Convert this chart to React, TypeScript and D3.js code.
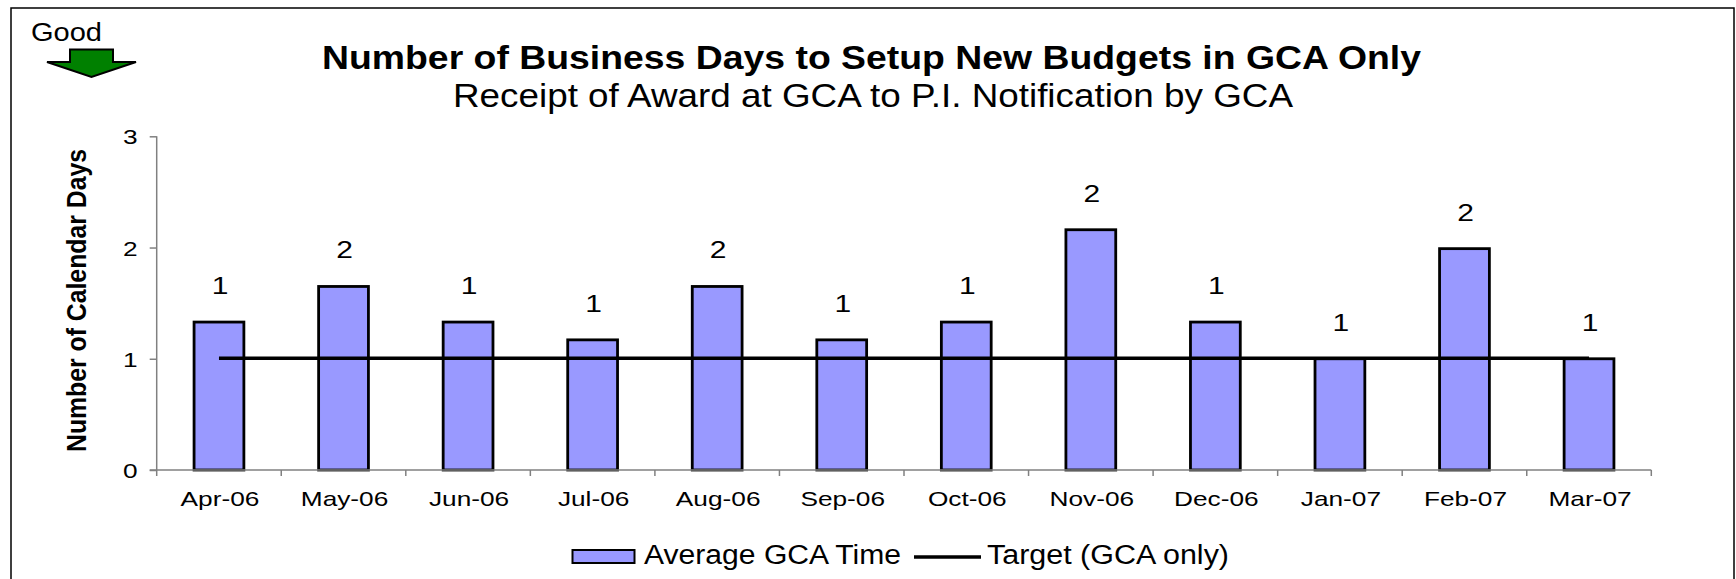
import React, { useEffect, useRef } from "react";
import * as d3 from "d3";

const months = ["Apr-06", "May-06", "Jun-06", "Jul-06", "Aug-06", "Sep-06", "Oct-06", "Nov-06", "Dec-06", "Jan-07", "Feb-07", "Mar-07"];
const averageGcaTime = [1.33, 1.65, 1.33, 1.17, 1.65, 1.17, 1.33, 2.16, 1.33, 1, 1.99, 1];
const dataLabels = [1, 2, 1, 1, 2, 1, 1, 2, 1, 1, 2, 1];
const targetGca = [1, 1, 1, 1, 1, 1, 1, 1, 1, 1, 1, 1];
const yTicks = [0, 1, 2, 3];

const W = 1736, H = 579;
const left = 156.7, right = 1651.3, top = 136.3, bottom = 470;
const FONT = '"Liberation Sans", Arial, sans-serif';
const STRETCH = 1.25;

export default function App() {
  const xRef = useRef<SVGGElement>(null);
  const yRef = useRef<SVGGElement>(null);

  const x = d3.scaleBand<string>().domain(months).range([left, right]).paddingInner(0.6).paddingOuter(0.3);
  const y = d3.scaleLinear().domain([0, 3]).range([bottom, top]);
  const cx = (m: string) => (x(m) as number) + x.bandwidth() / 2;
  const line = d3.line<number>().x((_, i) => cx(months[i])).y((d) => y(d));
  const edges = d3.range(months.length + 1).map((i) => left + i * x.step());

  useEffect(() => {
    const gx = d3.select(xRef.current!);
    gx.call(d3.axisBottom(x).tickSize(0).tickPadding(0) as any);
    gx.select(".domain").remove();
    gx.selectAll("text")
      .attr("y", 0).attr("dy", 0)
      .attr("transform", `translate(1,36) scale(${STRETCH},1)`)
      .attr("font-size", 21).attr("font-family", FONT).attr("fill", "#000");

    const gy = d3.select(yRef.current!);
    gy.call(d3.axisLeft(y).tickValues(yTicks).tickFormat(d3.format("d") as any).tickSize(7) as any);
    gy.select(".domain").remove();
    gy.selectAll("line").attr("stroke", "#808080").attr("stroke-width", 1.5);
    gy.selectAll("text")
      .attr("x", -19 / STRETCH).attr("dy", "0.36em")
      .attr("transform", `scale(${STRETCH},1)`)
      .attr("font-size", 21).attr("font-family", FONT).attr("fill", "#000");
  }, []);

  return (
    <svg width={W} height={H} style={{ position: "absolute", left: 0, top: 0, background: "#fff" }} fontFamily={FONT}>
      <rect x={11} y={8} width={1723} height={590} fill="#fff" stroke="#000" strokeWidth={1.5} />

      <text x={31} y={41} fontSize={25} textLength={71} lengthAdjust="spacingAndGlyphs">Good</text>
      <polygon points="70,49.5 113,49.5 113,62 136,62 91.5,77 47,62 70,62" fill="#008000" stroke="#000" strokeWidth={2} />

      <text x={871.5} y={69} textAnchor="middle" fontSize={33} fontWeight="bold" textLength={1099} lengthAdjust="spacingAndGlyphs">
        Number of Business Days to Setup New Budgets in GCA Only
      </text>
      <text x={873} y={107} textAnchor="middle" fontSize={33} textLength={840} lengthAdjust="spacingAndGlyphs">
        Receipt of Award at GCA to P.I. Notification by GCA
      </text>

      <text
        transform={`translate(86,300.5) rotate(-90)`}
        textAnchor="middle"
        fontSize={27}
        fontWeight="bold"
        textLength={303}
        lengthAdjust="spacingAndGlyphs"
      >
        Number of Calendar Days
      </text>

      <g>
        {months.map((m, i) => (
          <rect
            key={m}
            x={x(m)}
            y={y(averageGcaTime[i])}
            width={x.bandwidth()}
            height={bottom - y(averageGcaTime[i])}
            fill="#9999FF"
            stroke="#000"
            strokeWidth={2.8}
          />
        ))}
      </g>

      <line x1={left} x2={left} y1={top} y2={bottom} stroke="#808080" strokeWidth={1.5} />
      <line x1={left - 7} x2={right} y1={bottom} y2={bottom} stroke="#808080" strokeWidth={1.5} />
      {edges.map((e, i) => (
        <line key={i} x1={e} x2={e} y1={bottom} y2={bottom + 6} stroke="#808080" strokeWidth={1.5} />
      ))}
      <g ref={yRef} transform={`translate(${left},0)`} />
      <g ref={xRef} transform={`translate(0,${bottom})`} />

      <path d={line(targetGca) as string} fill="none" stroke="#000" strokeWidth={3.5} transform="translate(0,-0.5)" />

      {months.map((m, i) => (
        <text
          key={m}
          transform={`translate(${cx(m) + 1},${y(averageGcaTime[i]) - 28}) scale(${STRETCH},1)`}
          textAnchor="middle"
          fontSize={24}
        >
          {dataLabels[i]}
        </text>
      ))}

      <rect x={572.5} y={550} width={62} height={13} fill="#9999FF" stroke="#000" strokeWidth={2} />
      <text x={644} y={563.5} fontSize={27} textLength={257} lengthAdjust="spacingAndGlyphs">Average GCA Time</text>
      <line x1={914} x2={981} y1={557} y2={557} stroke="#000" strokeWidth={3.5} />
      <text x={987} y={563.5} fontSize={27} textLength={242} lengthAdjust="spacingAndGlyphs">Target (GCA only)</text>
    </svg>
  );
}
